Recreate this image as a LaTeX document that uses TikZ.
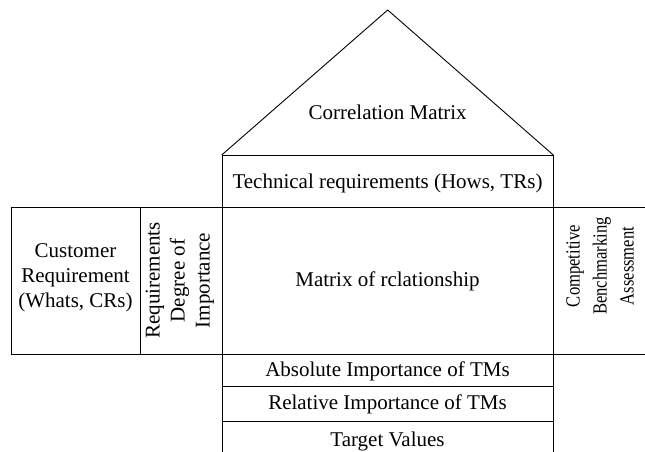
\documentclass[tikz,border=0pt]{standalone}
\usepackage{fontspec}
\setmainfont{Liberation Serif}
\begin{document}
\begin{tikzpicture}[x=1pt,y=-1pt,
  cell/.style={draw, line width=0.9pt, rectangle, inner sep=0pt, anchor=north west},
  lbl/.style={font=\fontsize{21}{25}\selectfont, align=center, inner sep=0pt},
  vlbl/.style={lbl, rotate=90},
  slbl/.style={font=\fontsize{20}{27}\selectfont, align=center, inner sep=0pt, rotate=90, xscale=0.83, transform shape}]
\useasboundingbox (0,0) rectangle (645,452);
\clip (0,0) rectangle (645,452);
% roof
\coordinate (rl) at (221.7,155);
\coordinate (rr) at (553.3,155);
\coordinate (apex) at (387.7,10);
\draw[line width=0.9pt, line join=miter] (rl) -- (apex) -- (rr);
\node[lbl] (corr) at (387.7,112) {Correlation Matrix};
% technical requirements
\node[cell, minimum width=331.6pt, minimum height=51.5pt] (tech) at (221.7,155) {};
\node[lbl] (techt) at (387.5,183) {Technical requirements (Hows, TRs)};
% main row
\node[cell, minimum width=129.3pt, minimum height=147.5pt] (cust) at (10.7,206.5) {};
\node[lbl] (custt) at (75.5,278) {Customer\\Requirement\\(Whats, CRs)};
\node[cell, minimum width=81.7pt, minimum height=147.5pt] (deg) at (140,206.5) {};
\node[vlbl] (degt) at (180,280.5) {Requirements\\Degree of\\Importance};
\node[cell, minimum width=331.6pt, minimum height=147.5pt] (mat) at (221.7,206.5) {};
\node[lbl] (matt) at (387.5,281) {Matrix of rclationship};
\node[cell, minimum width=95pt, minimum height=147.5pt] (comp) at (553.3,206.5) {};
\node[slbl] (compt) at (600,266) {Competitive\\Benchmarking\\Assessment};
% bottom rows
\node[cell, minimum width=331.6pt, minimum height=31.7pt] (abs) at (221.7,354) {};
\node[lbl] (abst) at (387.5,371) {Absolute Importance of TMs};
\node[cell, minimum width=331.6pt, minimum height=35pt] (rel) at (221.7,385.7) {};
\node[lbl] (relt) at (387.5,404) {Relative Importance of TMs};
\node[cell, minimum width=331.6pt, minimum height=45pt] (tgt) at (221.7,420.7) {};
\node[lbl] (tgtt) at (387.5,441) {Target Values};
\end{tikzpicture}
\end{document}
